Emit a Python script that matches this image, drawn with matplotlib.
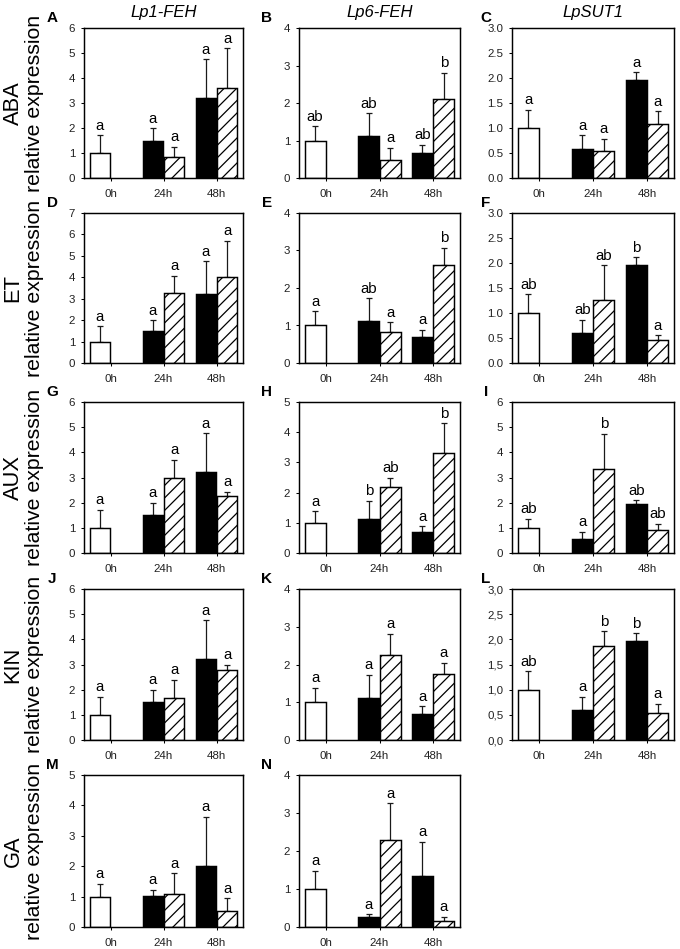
import matplotlib.pyplot as plt
from matplotlib.ticker import FixedLocator

plt.rcParams['font.family'] = ['Liberation Sans', 'DejaVu Sans']
plt.rcParams['hatch.linewidth'] = 0.6

genes = ["Lp1-FEH", "Lp6-FEH", "LpSUT1"]
hormones = ["ABA", "ET", "AUX", "KIN", "GA"]
time_labels = ["0h", "24h", "48h"]

# bar order: 0h, 24h control, 24h treated, 48h control, 48h treated
A_mean = [1.0, 1.5, 0.85, 3.2, 3.6]
A_err = [0.72, 0.5, 0.4, 1.55, 1.6]
A_sig = ["a", "a", "a", "a", "a"]

B_mean = [1.0, 1.12, 0.48, 0.68, 2.12]
B_err = [0.38, 0.61, 0.33, 0.21, 0.69]
B_sig = ["ab", "ab", "a", "ab", "b"]

C_mean = [1.0, 0.59, 0.54, 1.96, 1.09]
C_err = [0.37, 0.27, 0.25, 0.16, 0.25]
C_sig = ["a", "a", "a", "a", "a"]

D_mean = [1.0, 1.5, 3.28, 3.2, 4.02]
D_err = [0.72, 0.5, 0.79, 1.55, 1.68]
D_sig = ["a", "a", "a", "a", "a"]

E_mean = [1.0, 1.12, 0.83, 0.68, 2.6]
E_err = [0.38, 0.61, 0.26, 0.21, 0.47]
E_sig = ["a", "ab", "a", "a", "b"]

F_mean = [1.0, 0.59, 1.25, 1.96, 0.45]
F_err = [0.37, 0.27, 0.70, 0.16, 0.11]
F_sig = ["ab", "ab", "ab", "b", "a"]

G_mean = [1.0, 1.5, 3.0, 3.2, 2.28]
G_err = [0.72, 0.5, 0.7, 1.55, 0.16]
G_sig = ["a", "a", "a", "a", "a"]

H_mean = [1.0, 1.12, 2.2, 0.68, 3.32]
H_err = [0.38, 0.61, 0.3, 0.21, 0.98]
H_sig = ["a", "b", "ab", "a", "b"]

I_mean = [1.0, 0.57, 3.35, 1.95, 0.92]
I_err = [0.36, 0.28, 1.38, 0.15, 0.25]
I_sig = ["ab", "a", "b", "ab", "ab"]

J_mean = [1.0, 1.5, 1.66, 3.2, 2.8]
J_err = [0.72, 0.5, 0.73, 1.55, 0.2]
J_sig = ["a", "a", "a", "a", "a"]

K_mean = [1.0, 1.12, 2.26, 0.68, 1.75]
K_err = [0.38, 0.61, 0.56, 0.21, 0.3]
K_sig = ["a", "a", "a", "a", "a"]

L_mean = [1.0, 0.59, 1.86, 1.96, 0.54]
L_err = [0.37, 0.27, 0.3, 0.16, 0.18]
L_sig = ["ab", "a", "b", "b", "a"]

M_mean = [1.0, 1.02, 1.08, 2.02, 0.54]
M_err = [0.43, 0.21, 0.68, 1.6, 0.41]
M_sig = ["a", "a", "a", "a", "a"]

N_mean = [1.0, 0.27, 2.28, 1.33, 0.17]
N_err = [0.48, 0.06, 0.98, 0.91, 0.1]
N_sig = ["a", "a", "a", "a", "a"]

# y axis: (top, step, decimal separator or None for integers)
A_y = (6, 1, None)
B_y = (4, 1, None)
C_y = (3, 0.5, ".")
D_y = (7, 1, None)
E_y = (4, 1, None)
F_y = (3, 0.5, ".")
G_y = (6, 1, None)
H_y = (5, 1, None)
I_y = (6, 1, None)
J_y = (6, 1, None)
K_y = (4, 1, None)
L_y = (3, 0.5, ",")
M_y = (5, 1, None)
N_y = (4, 1, None)

panels = [
    ("A", 0, 0, A_mean, A_err, A_sig, A_y),
    ("B", 0, 1, B_mean, B_err, B_sig, B_y),
    ("C", 0, 2, C_mean, C_err, C_sig, C_y),
    ("D", 1, 0, D_mean, D_err, D_sig, D_y),
    ("E", 1, 1, E_mean, E_err, E_sig, E_y),
    ("F", 1, 2, F_mean, F_err, F_sig, F_y),
    ("G", 2, 0, G_mean, G_err, G_sig, G_y),
    ("H", 2, 1, H_mean, H_err, H_sig, H_y),
    ("I", 2, 2, I_mean, I_err, I_sig, I_y),
    ("J", 3, 0, J_mean, J_err, J_sig, J_y),
    ("K", 3, 1, K_mean, K_err, K_sig, K_y),
    ("L", 3, 2, L_mean, L_err, L_sig, L_y),
    ("M", 4, 0, M_mean, M_err, M_sig, M_y),
    ("N", 4, 1, N_mean, N_err, N_sig, N_y),
]

# layout in pixels of the 680x949 canvas
W, H = 680, 949
DPI = 150
col_left = [84, 299, 512]
col_right = [243, 460, 674]
row_top = [28, 213, 402, 589, 775]
row_bot = [178, 363, 553, 740, 927]

bar_x = [-0.2, 0.8, 1.2, 1.8, 2.2]
bar_fc = ["white", "black", "white", "black", "white"]
bar_hatch = [None, None, "////", None, "////"]
width = 0.39

fig = plt.figure(figsize=(W / DPI, H / DPI), dpi=DPI)

for letter, r, c, mean, err, sig, ycfg in panels:
    l, rr = col_left[c], col_right[c]
    t, b = row_top[r], row_bot[r]
    ax = fig.add_axes([l / W, 1 - b / H, (rr - l) / W, (b - t) / H])

    for x, m, fc, h in zip(bar_x, mean, bar_fc, bar_hatch):
        ax.bar(x, m, width, color=fc, edgecolor="black", hatch=h,
               linewidth=0.7, zorder=2)
    ax.errorbar(bar_x, mean, yerr=[[0] * len(err), err], fmt="none",
                ecolor="#1a1a1a", elinewidth=0.6, capsize=1.3, capthick=0.6,
                zorder=1)
    for x, m, e, s in zip(bar_x, mean, err, sig):
        ax.annotate(s, (x, m + e), xytext=(0, 1.2), textcoords="offset points",
                    ha="center", va="bottom", fontsize=7.2)

    top, step, sep = ycfg
    n = int(round(top / step))
    ticks = [i * step for i in range(n + 1)]
    if sep is None:
        labels = [str(int(v)) for v in ticks]
    else:
        labels = [f"{v:.1f}".replace(".", sep) for v in ticks]
    ax.set_ylim(0, top)
    ax.yaxis.set_major_locator(FixedLocator(ticks))
    ax.set_yticklabels(labels)
    ax.set_xlim(-0.5, 2.5)
    ax.set_xticks([0, 1, 2])
    ax.set_xticklabels(time_labels)
    ax.tick_params(axis="both", direction="out", length=1.4, width=0.5,
                   labelsize=5.5, colors="black", labelcolor="#222222")
    ax.tick_params(axis="x", pad=4)
    ax.tick_params(axis="y", pad=2.8)
    for sp in ax.spines.values():
        sp.set_linewidth(0.7)

    dx = -32 if c < 2 else -26
    fig.text((l + dx) / W, 1 - (t - 10) / H, letter, fontsize=7.3,
             fontweight="bold", ha="center", va="center")

    if r == 0:
        fig.text((l + rr) / 2 / W, 1 - (t - 15) / H, genes[c], fontsize=8,
                 style="italic", ha="center", va="center")
    if c == 0:
        yc = 1 - (t + b) / 2 / H
        fig.text(13 / W, yc, hormones[r], fontsize=10.5, rotation=90,
                 ha="center", va="center")
        fig.text(35 / W, yc, "relative expression", fontsize=10.2,
                 rotation=90, ha="center", va="center")

fig.savefig("out.png", dpi=DPI)
